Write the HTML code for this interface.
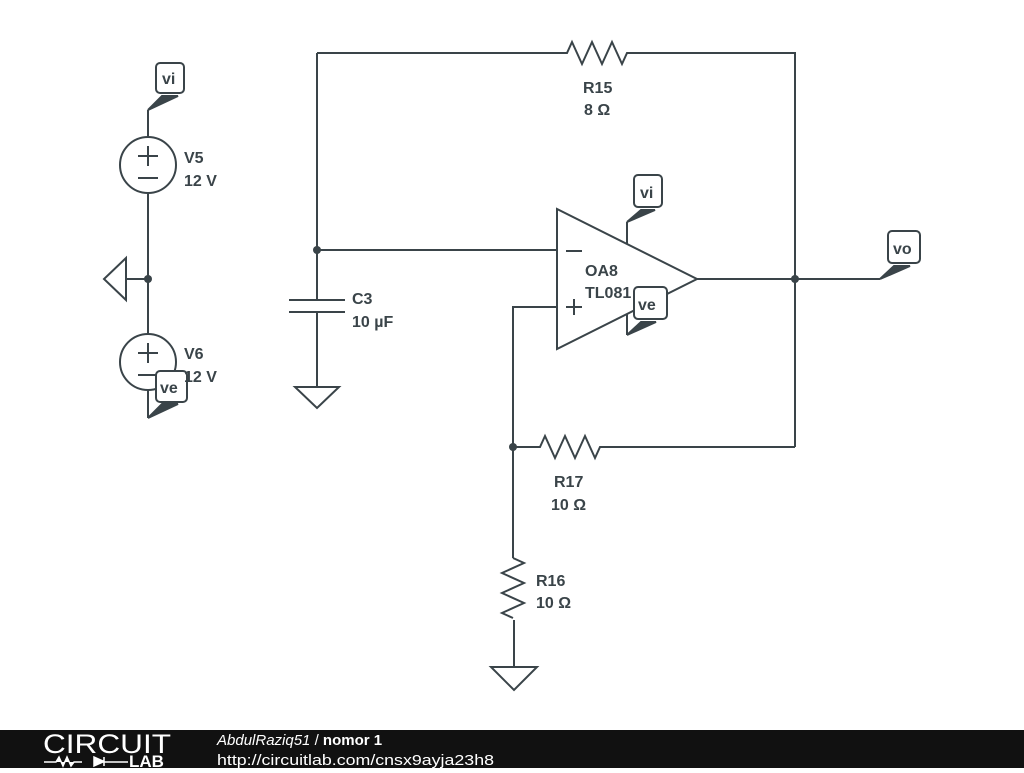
<!DOCTYPE html>
<html><head><meta charset="utf-8"><style>
body{margin:0;width:1024px;height:768px;background:#fff;overflow:hidden;font-family:"Liberation Sans",sans-serif}
</style></head><body>
<svg width="1024" height="768" viewBox="0 0 1024 768" xmlns="http://www.w3.org/2000/svg">
<g stroke="#3a4449" stroke-width="2" fill="none" stroke-linejoin="miter">
<path d="M148 110V137M148 193V334M148 390V418"/>
<circle cx="148" cy="165" r="28"/>
<circle cx="148" cy="362" r="28"/>
<path d="M138 156h20M148 146v20M138 178h20"/>
<path d="M138 353h20M148 343v20M138 375h20"/>
<path d="M148 279H126M126 258V300L104 279Z"/>
<path d="M317 53V300M317 312V387M289 300H345M289 312H345M295 387H339L317 408Z"/>
<path d="M317 53H567l5-11 10 22 10-22 10 22 10-22 10 22 5-11H795V447"/>
<path d="M317 250H557"/>
<path d="M557 209V349L697 279Z"/>
<path d="M566 251h16M566 307h16M574 299v16"/>
<path d="M697 279H880"/>
<path d="M627 244V222M627 335V314"/>
<path d="M557 307H513V558"/>
<path d="M513 447H540l5-11 10 22 10-22 10 22 10-22 10 22 5-11H795"/>
<path d="M513 558l11 5-22 10 22 10-22 10 22 10-22 10 11 5"/>
<path d="M514 620V667M491 667H537L514 690Z"/>
</g>
<g fill="#3a4449">
<circle cx="148" cy="279" r="4"/><circle cx="317" cy="250" r="4"/>
<circle cx="795" cy="279" r="4"/><circle cx="513" cy="447" r="4"/>
</g>
<g stroke="#3a4449" stroke-width="2" fill="#fff">
<path d="M148 110L162 96H178Z" fill="#3a4449"/>
<rect x="156" y="63" width="28" height="30" rx="4"/>
<path d="M148 418L162 404H178Z" fill="#3a4449"/>
<rect x="156" y="371" width="31" height="31" rx="4"/>
<path d="M627 222L641 210H655Z" fill="#3a4449"/>
<rect x="634" y="175" width="28" height="32" rx="4"/>
<path d="M627 335L641 322H656Z" fill="#3a4449"/>
<rect x="634" y="287" width="33" height="32" rx="4"/>
<path d="M880 279L894 266H910Z" fill="#3a4449"/>
<rect x="888" y="231" width="32" height="32" rx="4"/>
</g>
<g fill="#3a4449" font-weight="bold" font-size="16">
<text x="162" y="84">vi</text><text x="160" y="393">ve</text>
<text x="640" y="198">vi</text><text x="638" y="310">ve</text>
<text x="893" y="254">vo</text>
<text x="184" y="163">V5</text><text x="184" y="186">12 V</text>
<text x="184" y="359">V6</text><text x="184" y="382">12 V</text>
<text x="352" y="304">C3</text><text x="352" y="327">10 µF</text>
<text x="583" y="93">R15</text><text x="584" y="115">8 Ω</text>
<text x="585" y="276">OA8</text><text x="585" y="298">TL081</text>
<text x="554" y="487">R17</text><text x="551" y="510">10 Ω</text>
<text x="536" y="586">R16</text><text x="536" y="608">10 Ω</text>
</g>
<rect x="0" y="730" width="1024" height="38" fill="#111"/>
<text x="43" y="753" fill="#fff" font-size="27" textLength="128" lengthAdjust="spacingAndGlyphs">CIRCUIT</text>
<path d="M44 762h12l3-5 4 9 4-9 4 9 3-4h8M94 757v9l10-4.5zM104 757v9M104 762h24" stroke="#fff" stroke-width="1.5" fill="#fff"/>
<text x="129" y="767" fill="#fff" font-size="17" font-weight="bold">LAB</text>
<text x="217" y="745" fill="#fff" font-size="15"><tspan font-style="italic">AbdulRaziq51</tspan> / <tspan font-weight="bold">nomor 1</tspan></text>
<text x="217" y="765" fill="#fff" font-size="15" textLength="277" lengthAdjust="spacingAndGlyphs">http://circuitlab.com/cnsx9ayja23h8</text>
</svg>
</body></html>
